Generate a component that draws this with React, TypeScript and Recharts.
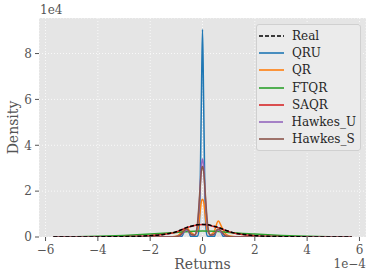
import { LineChart, Line, XAxis, YAxis, CartesianGrid, Legend, Label } from 'recharts';

// x in units of 1e-4, density in units of 1e4
const realX = [-5.7, -4, -3, -2.5, -2, -1.5, -1.2, -1, -0.8, -0.6, -0.4, -0.2, 0, 0.2, 0.4, 0.6, 0.8, 1, 1.2, 1.5, 2, 2.5, 3, 4, 5.7];
const realY = [0, 0.005, 0.015, 0.03, 0.06, 0.11, 0.17, 0.23, 0.32, 0.42, 0.48, 0.53, 0.55, 0.53, 0.48, 0.42, 0.33, 0.25, 0.18, 0.12, 0.06, 0.03, 0.015, 0.005, 0];

const qruX = [-5.7, -1.0, -0.8, -0.65, -0.55, -0.45, -0.3, -0.18, -0.12, -0.08, -0.04, 0, 0.04, 0.08, 0.12, 0.18, 0.3, 0.45, 0.55, 0.65, 0.8, 1.0, 5.7];
const qruY = [0, 0, 0.02, 0.3, 0.3, 0.02, 0.01, 0.05, 0.6, 2.8, 6.2, 9.06, 6.2, 2.8, 0.6, 0.05, 0.01, 0.02, 0.3, 0.3, 0.02, 0, 0];

const qrX = [-5.7, -1.3, -1.0, -0.8, -0.6, -0.45, -0.3, -0.18, -0.1, -0.05, 0, 0.05, 0.1, 0.18, 0.3, 0.45, 0.6, 0.75, 0.9, 1.1, 1.4, 5.7];
const qrY = [0, 0, 0.03, 0.2, 0.4, 0.2, 0.1, 0.3, 1.0, 1.5, 1.65, 1.5, 1.0, 0.3, 0.1, 0.25, 0.7, 0.4, 0.12, 0.03, 0, 0];

const ftqrX = [-5.7, -5, -4, -3, -2, -1, -0.5, 0, 0.5, 1, 2, 3, 4, 5, 5.7];
const ftqrY = [0, 0.01, 0.03, 0.07, 0.13, 0.2, 0.24, 0.26, 0.25, 0.2, 0.13, 0.07, 0.03, 0.01, 0];

const saqrX = [-5.7, -4, -3, -2.5, -2, -1.5, -1.2, -1, -0.8, -0.6, -0.4, -0.2, 0, 0.2, 0.4, 0.6, 0.8, 1, 1.2, 1.5, 2, 2.5, 3, 4, 5.7];
const saqrY = [0, 0.005, 0.016, 0.03, 0.06, 0.11, 0.16, 0.22, 0.31, 0.41, 0.47, 0.52, 0.54, 0.52, 0.47, 0.41, 0.32, 0.24, 0.17, 0.11, 0.06, 0.03, 0.016, 0.005, 0];

const hawkesUX = [-5.7, -1.2, -0.9, -0.6, -0.42, -0.3, -0.2, -0.1, -0.05, 0, 0.05, 0.1, 0.2, 0.3, 0.42, 0.6, 0.9, 1.2, 5.7];
const hawkesUY = [0, 0, 0.03, 0.3, 0.1, 0.08, 0.4, 1.9, 3.0, 3.4, 3.0, 1.9, 0.4, 0.08, 0.1, 0.3, 0.03, 0, 0];

const hawkesSX = [-5.7, -1.2, -0.9, -0.6, -0.42, -0.3, -0.2, -0.1, -0.05, 0, 0.05, 0.1, 0.2, 0.3, 0.42, 0.6, 0.9, 1.2, 5.7];
const hawkesSY = [0, 0, 0.04, 0.35, 0.1, 0.08, 0.5, 2.0, 2.8, 3.08, 2.8, 2.0, 0.5, 0.08, 0.1, 0.35, 0.04, 0, 0];

const xTicks = [-6, -4, -2, 0, 2, 4, 6];
const yTicks = [0, 2, 4, 6, 8];

const zip = (xs: number[], ys: number[]) => xs.map((x, i) => ({ x, y: ys[i] }));

const series = [
  { name: 'QRU', color: '#1f77b4', data: zip(qruX, qruY) },
  { name: 'QR', color: '#ff7f0e', data: zip(qrX, qrY) },
  { name: 'FTQR', color: '#2ca02c', data: zip(ftqrX, ftqrY) },
  { name: 'SAQR', color: '#d62728', data: zip(saqrX, saqrY) },
  { name: 'Hawkes_U', color: '#9467bd', data: zip(hawkesUX, hawkesUY) },
  { name: 'Hawkes_S', color: '#8c564b', data: zip(hawkesSX, hawkesSY) },
];
const real = { name: 'Real', color: '#000000', data: zip(realX, realY) };

const font = '"DejaVu Serif", serif';
const fmt = (v: number) => (v < 0 ? '\u2212' + Math.abs(v) : String(v));

const legendItems = [real, ...series];

function LegendBox() {
  return (
    <div style={{
      background: '#ebebeb', border: '1px solid #d0d0d0', borderRadius: 3,
      padding: '2px 4px 2px 2px', fontFamily: font, fontSize: 12, color: '#262626',
    }}>
      {legendItems.map((s) => (
        <div key={s.name} style={{ display: 'flex', alignItems: 'center', height: 17.3 }}>
          <svg width={25} height={4} style={{ marginRight: 8 }}>
            <line x1={0} y1={2} x2={25} y2={2} stroke={s.color} strokeWidth={1.6}
              strokeDasharray={s.name === 'Real' ? '4 2' : undefined} />
          </svg>
          <span>{s.name}</span>
        </div>
      ))}
    </div>
  );
}

export default function App() {
  return (
    <div style={{ position: 'absolute', left: 0, top: 0 }}>
      <LineChart width={374} height={279} margin={{ top: 18, right: 8, left: 9, bottom: 0 }}>
        <CartesianGrid fill="#e5e5e5" stroke="#ffffff" strokeDasharray="1 2" strokeWidth={0.8} />
        <XAxis type="number" dataKey="x" domain={[-6.25, 6.25]} ticks={xTicks} tickFormatter={fmt}
          allowDataOverflow axisLine={false} tickLine={{ stroke: '#555' }} tickSize={4} tickMargin={4}
          height={42} tick={{ fill: '#555', fontSize: 12, fontFamily: font }}>
          <Label content={(p: any) => {
            const vb = p.viewBox;
            return (
              <g fontFamily={font} fill="#555">
                <text x={vb.x + vb.width / 2} y={vb.y + 32} textAnchor="middle" fontSize={14}>Returns</text>
                <text x={vb.x + vb.width} y={vb.y + 31} textAnchor="end" fontSize={12}>1e−4</text>
              </g>
            );
          }} />
        </XAxis>
        <YAxis type="number" domain={[0, 9.55]} ticks={yTicks} allowDataOverflow axisLine={false}
          tickLine={{ stroke: '#555' }} tickSize={4} tickMargin={3} width={30}
          tick={{ fill: '#555', fontSize: 12, fontFamily: font }}>
          <Label content={(p: any) => {
            const vb = p.viewBox;
            const cy = vb.y + vb.height / 2;
            return (
              <g fontFamily={font} fill="#555">
                <text x={vb.x + 9} y={cy} textAnchor="middle" fontSize={14}
                  transform={`rotate(-90 ${vb.x + 9} ${cy})`}>Density</text>
                <text x={vb.x + vb.width + 1} y={vb.y - 4} textAnchor="start" fontSize={12}>1e4</text>
              </g>
            );
          }} />
        </YAxis>
        {series.map((s) => (
          <Line key={s.name} data={s.data} dataKey="y" name={s.name} type="monotone" stroke={s.color}
            strokeWidth={1.5} dot={false} isAnimationActive={false} />
        ))}
        <Line data={real.data} dataKey="y" name="Real" type="monotone" stroke="#000" strokeWidth={1.5}
          strokeDasharray="4 2" dot={false} isAnimationActive={false} />
        <Legend layout="vertical" align="center" verticalAlign="middle" content={<LegendBox />}
          wrapperStyle={{ left: 256, top: 24, width: 105, height: 'auto' }} />
      </LineChart>
    </div>
  );
}
